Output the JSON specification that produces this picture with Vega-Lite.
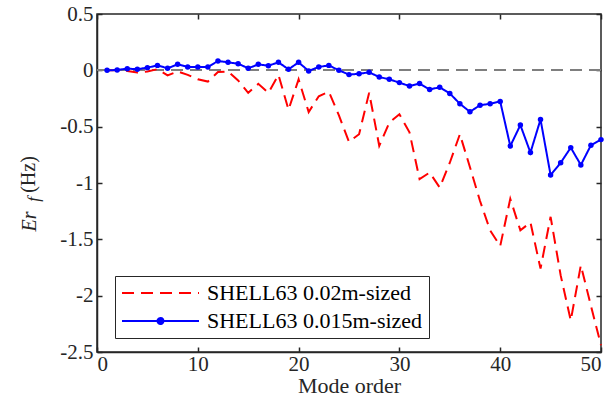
{
  "$schema": "https://vega.github.io/schema/vega-lite/v6.json",
  "width": 504,
  "height": 338,
  "autosize": {"type": "none"},
  "padding": {"left": 97, "top": 14, "right": 13, "bottom": 67},
  "background": "white",
  "config": {
    "view": {"stroke": "#262626", "strokeWidth": 1.5},
    "font": "Liberation Serif",
    "text": {"font": "Liberation Serif"},
    "axis": {
      "grid": false,
      "domainColor": "#262626",
      "domainWidth": 1.5,
      "tickColor": "#262626",
      "tickSize": -5,
      "tickWidth": 1.5,
      "labelFont": "Liberation Serif",
      "labelFontSize": 21,
      "labelColor": "#262626",
      "titleFont": "Liberation Serif",
      "titleFontSize": 20,
      "titleFontWeight": "normal",
      "titleColor": "#262626"
    },
    "legend": {"labelFont": "Liberation Serif"}
  },
  "datasets": {
    "modes": [
      {"mode": 1, "series": "SHELL63 0.02m-sized", "err": 0.0},
      {"mode": 2, "series": "SHELL63 0.02m-sized", "err": 0.0},
      {"mode": 3, "series": "SHELL63 0.02m-sized", "err": -0.005},
      {"mode": 4, "series": "SHELL63 0.02m-sized", "err": -0.02},
      {"mode": 5, "series": "SHELL63 0.02m-sized", "err": -0.01},
      {"mode": 6, "series": "SHELL63 0.02m-sized", "err": 0.01},
      {"mode": 7, "series": "SHELL63 0.02m-sized", "err": -0.045},
      {"mode": 8, "series": "SHELL63 0.02m-sized", "err": -0.01},
      {"mode": 9, "series": "SHELL63 0.02m-sized", "err": -0.04},
      {"mode": 10, "series": "SHELL63 0.02m-sized", "err": -0.08},
      {"mode": 11, "series": "SHELL63 0.02m-sized", "err": -0.1},
      {"mode": 12, "series": "SHELL63 0.02m-sized", "err": -0.015},
      {"mode": 13, "series": "SHELL63 0.02m-sized", "err": -0.01},
      {"mode": 14, "series": "SHELL63 0.02m-sized", "err": -0.09},
      {"mode": 15, "series": "SHELL63 0.02m-sized", "err": -0.2},
      {"mode": 16, "series": "SHELL63 0.02m-sized", "err": -0.12},
      {"mode": 17, "series": "SHELL63 0.02m-sized", "err": -0.2},
      {"mode": 18, "series": "SHELL63 0.02m-sized", "err": -0.04},
      {"mode": 19, "series": "SHELL63 0.02m-sized", "err": -0.35},
      {"mode": 20, "series": "SHELL63 0.02m-sized", "err": -0.08},
      {"mode": 21, "series": "SHELL63 0.02m-sized", "err": -0.37},
      {"mode": 22, "series": "SHELL63 0.02m-sized", "err": -0.23},
      {"mode": 23, "series": "SHELL63 0.02m-sized", "err": -0.19},
      {"mode": 24, "series": "SHELL63 0.02m-sized", "err": -0.4},
      {"mode": 25, "series": "SHELL63 0.02m-sized", "err": -0.635},
      {"mode": 26, "series": "SHELL63 0.02m-sized", "err": -0.567},
      {"mode": 27, "series": "SHELL63 0.02m-sized", "err": -0.198},
      {"mode": 28, "series": "SHELL63 0.02m-sized", "err": -0.67},
      {"mode": 29, "series": "SHELL63 0.02m-sized", "err": -0.464},
      {"mode": 30, "series": "SHELL63 0.02m-sized", "err": -0.39},
      {"mode": 31, "series": "SHELL63 0.02m-sized", "err": -0.55},
      {"mode": 32, "series": "SHELL63 0.02m-sized", "err": -0.966},
      {"mode": 33, "series": "SHELL63 0.02m-sized", "err": -0.907},
      {"mode": 34, "series": "SHELL63 0.02m-sized", "err": -1.04},
      {"mode": 35, "series": "SHELL63 0.02m-sized", "err": -0.82},
      {"mode": 36, "series": "SHELL63 0.02m-sized", "err": -0.567},
      {"mode": 37, "series": "SHELL63 0.02m-sized", "err": -0.86},
      {"mode": 38, "series": "SHELL63 0.02m-sized", "err": -1.16},
      {"mode": 39, "series": "SHELL63 0.02m-sized", "err": -1.42},
      {"mode": 40, "series": "SHELL63 0.02m-sized", "err": -1.56},
      {"mode": 41, "series": "SHELL63 0.02m-sized", "err": -1.14},
      {"mode": 42, "series": "SHELL63 0.02m-sized", "err": -1.42},
      {"mode": 43, "series": "SHELL63 0.02m-sized", "err": -1.35},
      {"mode": 44, "series": "SHELL63 0.02m-sized", "err": -1.76},
      {"mode": 45, "series": "SHELL63 0.02m-sized", "err": -1.3},
      {"mode": 46, "series": "SHELL63 0.02m-sized", "err": -1.82},
      {"mode": 47, "series": "SHELL63 0.02m-sized", "err": -2.22},
      {"mode": 48, "series": "SHELL63 0.02m-sized", "err": -1.73},
      {"mode": 49, "series": "SHELL63 0.02m-sized", "err": -2.09},
      {"mode": 50, "series": "SHELL63 0.02m-sized", "err": -2.44},
      {"mode": 1, "series": "SHELL63 0.015m-sized", "err": 0.0},
      {"mode": 2, "series": "SHELL63 0.015m-sized", "err": 0.003},
      {"mode": 3, "series": "SHELL63 0.015m-sized", "err": 0.015},
      {"mode": 4, "series": "SHELL63 0.015m-sized", "err": 0.01},
      {"mode": 5, "series": "SHELL63 0.015m-sized", "err": 0.024},
      {"mode": 6, "series": "SHELL63 0.015m-sized", "err": 0.044},
      {"mode": 7, "series": "SHELL63 0.015m-sized", "err": 0.018},
      {"mode": 8, "series": "SHELL63 0.015m-sized", "err": 0.053},
      {"mode": 9, "series": "SHELL63 0.015m-sized", "err": 0.03},
      {"mode": 10, "series": "SHELL63 0.015m-sized", "err": 0.03},
      {"mode": 11, "series": "SHELL63 0.015m-sized", "err": 0.03},
      {"mode": 12, "series": "SHELL63 0.015m-sized", "err": 0.083},
      {"mode": 13, "series": "SHELL63 0.015m-sized", "err": 0.071},
      {"mode": 14, "series": "SHELL63 0.015m-sized", "err": 0.059},
      {"mode": 15, "series": "SHELL63 0.015m-sized", "err": 0.018},
      {"mode": 16, "series": "SHELL63 0.015m-sized", "err": 0.053},
      {"mode": 17, "series": "SHELL63 0.015m-sized", "err": 0.041},
      {"mode": 18, "series": "SHELL63 0.015m-sized", "err": 0.071},
      {"mode": 19, "series": "SHELL63 0.015m-sized", "err": 0.009},
      {"mode": 20, "series": "SHELL63 0.015m-sized", "err": 0.071},
      {"mode": 21, "series": "SHELL63 0.015m-sized", "err": -0.006},
      {"mode": 22, "series": "SHELL63 0.015m-sized", "err": 0.03},
      {"mode": 23, "series": "SHELL63 0.015m-sized", "err": 0.044},
      {"mode": 24, "series": "SHELL63 0.015m-sized", "err": 0.0},
      {"mode": 25, "series": "SHELL63 0.015m-sized", "err": -0.038},
      {"mode": 26, "series": "SHELL63 0.015m-sized", "err": -0.03},
      {"mode": 27, "series": "SHELL63 0.015m-sized", "err": -0.018},
      {"mode": 28, "series": "SHELL63 0.015m-sized", "err": -0.059},
      {"mode": 29, "series": "SHELL63 0.015m-sized", "err": -0.08},
      {"mode": 30, "series": "SHELL63 0.015m-sized", "err": -0.109},
      {"mode": 31, "series": "SHELL63 0.015m-sized", "err": -0.14},
      {"mode": 32, "series": "SHELL63 0.015m-sized", "err": -0.117},
      {"mode": 33, "series": "SHELL63 0.015m-sized", "err": -0.17},
      {"mode": 34, "series": "SHELL63 0.015m-sized", "err": -0.15},
      {"mode": 35, "series": "SHELL63 0.015m-sized", "err": -0.205},
      {"mode": 36, "series": "SHELL63 0.015m-sized", "err": -0.297},
      {"mode": 37, "series": "SHELL63 0.015m-sized", "err": -0.368},
      {"mode": 38, "series": "SHELL63 0.015m-sized", "err": -0.309},
      {"mode": 39, "series": "SHELL63 0.015m-sized", "err": -0.297},
      {"mode": 40, "series": "SHELL63 0.015m-sized", "err": -0.276},
      {"mode": 41, "series": "SHELL63 0.015m-sized", "err": -0.672},
      {"mode": 42, "series": "SHELL63 0.015m-sized", "err": -0.486},
      {"mode": 43, "series": "SHELL63 0.015m-sized", "err": -0.73},
      {"mode": 44, "series": "SHELL63 0.015m-sized", "err": -0.436},
      {"mode": 45, "series": "SHELL63 0.015m-sized", "err": -0.93},
      {"mode": 46, "series": "SHELL63 0.015m-sized", "err": -0.82},
      {"mode": 47, "series": "SHELL63 0.015m-sized", "err": -0.686},
      {"mode": 48, "series": "SHELL63 0.015m-sized", "err": -0.84},
      {"mode": 49, "series": "SHELL63 0.015m-sized", "err": -0.665},
      {"mode": 50, "series": "SHELL63 0.015m-sized", "err": -0.615}
    ]
  },
  "data": {"name": "modes"},
  "resolve": {"scale": {"x": "independent", "y": "independent"}},
  "layer": [
    {
      "layer": [
        {
          "mark": {"type": "rule", "color": "#7f7f7f", "strokeWidth": 1.5, "strokeDash": [12, 7]},
          "encoding": {"y": {"datum": 0, "type": "quantitative"}}
        },
        {
          "mark": {"type": "line", "strokeWidth": 2},
          "encoding": {
            "x": {
              "field": "mode",
              "type": "quantitative",
              "scale": {"domain": [0, 50], "nice": false, "zero": false},
              "axis": {
                "orient": "bottom",
                "values": [0, 10, 20, 30, 40, 50],
                "labelFont": "Liberation Serif",
                "labelPadding": 6,
                "title": "Mode order",
                "titleFontSize": 22,
                "titlePadding": 1
              }
            },
            "y": {
              "field": "err",
              "type": "quantitative",
              "scale": {"domain": [-2.5, 0.5], "nice": false, "zero": false},
              "axis": {
                "orient": "left",
                "values": [-2.5, -2, -1.5, -1, -0.5, 0, 0.5],
                "labelExpr": "datum.value + ''",
                "labelFont": "Liberation Serif",
                "labelPadding": 9,
                "title": "(Hz)",
                "titleAngle": 270,
                "titleAlign": "center",
                "titleBaseline": "alphabetic",
                "titleX": -63,
                "titleY": 160
              }
            },
            "color": {
              "field": "series",
              "type": "nominal",
              "scale": {
                "domain": ["SHELL63 0.02m-sized", "SHELL63 0.015m-sized"],
                "range": ["#ff0000", "#0000ff"]
              },
              "legend": {
                "title": null,
                "orient": "none",
                "legendX": 18,
                "legendY": 262,
                "direction": "vertical",
                "strokeColor": "#262626",
                "fillColor": "white",
                "padding": 6,
                "rowPadding": 6,
                "labelFont": "Liberation Serif",
                "labelFontSize": 22,
                "labelColor": "#000000",
                "labelLimit": 400,
                "labelOffset": 64,
                "symbolSize": 400,
                "symbolStrokeWidth": 2,
                "encode": {
                  "symbols": {
                    "update": {
                      "shape": {"signal": "datum.value === 'SHELL63 0.015m-sized' ? 'M-1,0L6.7,0M3.15,0A0.3,0.3,0,1,1,2.55,0A0.3,0.3,0,1,1,3.15,0' : 'M-1,0L6.7,0'"},
                      "fill": {"signal": "datum.value === 'SHELL63 0.015m-sized' ? '#0000ff' : 'transparent'"}
                    }
                  }
                }
              }
            },
            "strokeDash": {
              "field": "series",
              "type": "nominal",
              "scale": {
                "domain": ["SHELL63 0.02m-sized", "SHELL63 0.015m-sized"],
                "range": [[12, 7], [1, 0]]
              },
              "legend": null
            }
          }
        }
      ]
    },
    {
      "transform": [{"filter": "datum.series === 'SHELL63 0.015m-sized'"}],
      "mark": {"type": "point", "filled": true, "color": "#0000ff", "size": 30, "opacity": 1},
      "encoding": {
        "x": {
          "field": "mode",
          "type": "quantitative",
          "scale": {"domain": [0, 50], "nice": false, "zero": false},
          "axis": {
            "orient": "top",
            "values": [0, 10, 20, 30, 40, 50],
            "labels": false,
            "domain": false,
            "title": "f",
            "titleFontStyle": "italic",
            "titleFontSize": 17,
            "titleAngle": 270,
            "titleAlign": "center",
            "titleBaseline": "alphabetic",
            "titleX": -59,
            "titleY": 185
          }
        },
        "y": {
          "field": "err",
          "type": "quantitative",
          "scale": {"domain": [-2.5, 0.5], "nice": false, "zero": false},
          "axis": {
            "orient": "right",
            "values": [-2.5, -2, -1.5, -1, -0.5, 0, 0.5],
            "labels": false,
            "domain": false,
            "title": "Er",
            "titleFontStyle": "italic",
            "titleAngle": 270,
            "titleAlign": "center",
            "titleBaseline": "alphabetic",
            "titleX": -566,
            "titleY": 207
          }
        }
      }
    }
  ]
}
